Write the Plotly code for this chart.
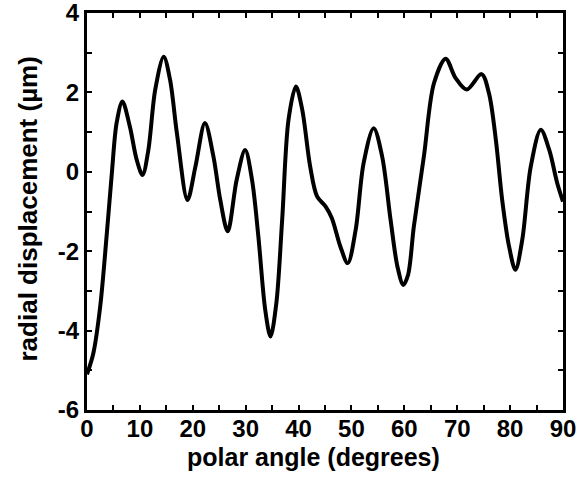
import plotly.graph_objects as go

# polar angle (degrees) and radial displacement (um)
angle = [0.0, 1.2, 2.5, 3.7, 4.7, 5.6, 6.7, 8.1, 9.4, 10.5, 11.6, 12.9, 14.5, 15.7,
         17.0, 19.0, 20.5, 22.3, 23.9, 25.2, 26.6, 28.3, 29.9, 31.2, 32.4, 33.7,
         34.7, 35.8, 36.9, 38.1, 39.5, 40.7, 42.2, 43.5, 45.1, 46.3, 47.9, 49.3,
         50.8, 52.3, 54.2, 55.8, 57.4, 58.7, 59.8, 60.7, 61.8, 63.7, 65.6, 67.8,
         69.7, 71.8, 74.6, 76.0, 77.3, 78.5, 79.8, 81.0, 82.3, 83.9, 85.8, 87.4,
         88.9, 90.0]
displacement = [-5.1, -4.57, -3.39, -1.63, -0.03, 1.23, 1.77, 1.14, 0.3, -0.08, 0.55,
                2.07, 2.9, 2.32, 0.97, -0.71, 0.13, 1.23, 0.39, -0.71, -1.5, -0.2,
                0.55, -0.2, -1.63, -3.48, -4.15, -3.31, -1.21, 1.31, 2.15, 1.56,
                0.13, -0.62, -0.87, -1.17, -1.88, -2.3, -1.46, 0.22, 1.1, 0.39,
                -1.21, -2.39, -2.85, -2.6, -1.38, 0.39, 2.23, 2.85, 2.36, 2.07,
                2.46, 1.98, 0.81, -0.71, -1.88, -2.47, -1.71, 0.13, 1.06, 0.55,
                -0.28, -0.75]

x_tickvals = [0, 5, 10, 15, 20, 25, 30, 35, 40, 45, 50, 55, 60, 65, 70, 75, 80, 85, 90]
x_ticktext = ["0", "", "10", "", "20", "", "30", "", "40", "", "50", "", "60", "", "70", "", "80", "", "90"]
y_tickvals = [-6, -5, -4, -3, -2, -1, 0, 1, 2, 3, 4]
y_ticktext = ["-6", "", "-4", "", "-2", "", "0", "", "2", "", "4"]
x_title = "polar angle (degrees)"
y_title = "radial displacement (µm)"

fig = go.Figure()
fig.add_trace(go.Scatter(
    x=angle, y=displacement, mode="lines",
    line=dict(color="black", width=4, shape="spline", smoothing=0.9),
    hoverinfo="skip", showlegend=False,
))

font_family = "Liberation Sans, Arial, sans-serif"
fig.update_layout(
    width=579, height=477,
    margin=dict(l=87, r=16, t=13, b=67, autoexpand=False),
    paper_bgcolor="white", plot_bgcolor="white",
    font=dict(family=font_family, color="black"),
)
common = dict(
    automargin=False, ticks="inside", ticklen=5, tickwidth=2, tickcolor="black",
    showline=True, linewidth=3, linecolor="black", mirror="ticks",
    showgrid=False, zeroline=False, ticklabeloverflow="allow",
    tickfont=dict(size=24, family=font_family, weight="bold"),
)
fig.update_xaxes(range=[0, 90], tickvals=x_tickvals, ticktext=x_ticktext,
                 ticklabelstandoff=-5, **common)
fig.update_yaxes(range=[-6, 4], tickvals=y_tickvals, ticktext=y_ticktext, **common)

fig.add_annotation(
    text="<b>" + x_title + "</b>", xref="paper", yref="paper", x=0.5, y=0,
    xanchor="center", yanchor="middle", xshift=-12, yshift=-47,
    showarrow=False, font=dict(size=25, family=font_family, color="black"),
)
fig.add_annotation(
    text="<b>" + y_title + "</b>", xref="paper", yref="paper", x=0, y=0.5,
    xanchor="center", yanchor="middle", xshift=-60, yshift=2, textangle=-90,
    showarrow=False, font=dict(size=26, family=font_family, color="black"),
)

fig.write_html("out.html", config={"displayModeBar": False},
               post_script="document.body.style.margin='0';")
